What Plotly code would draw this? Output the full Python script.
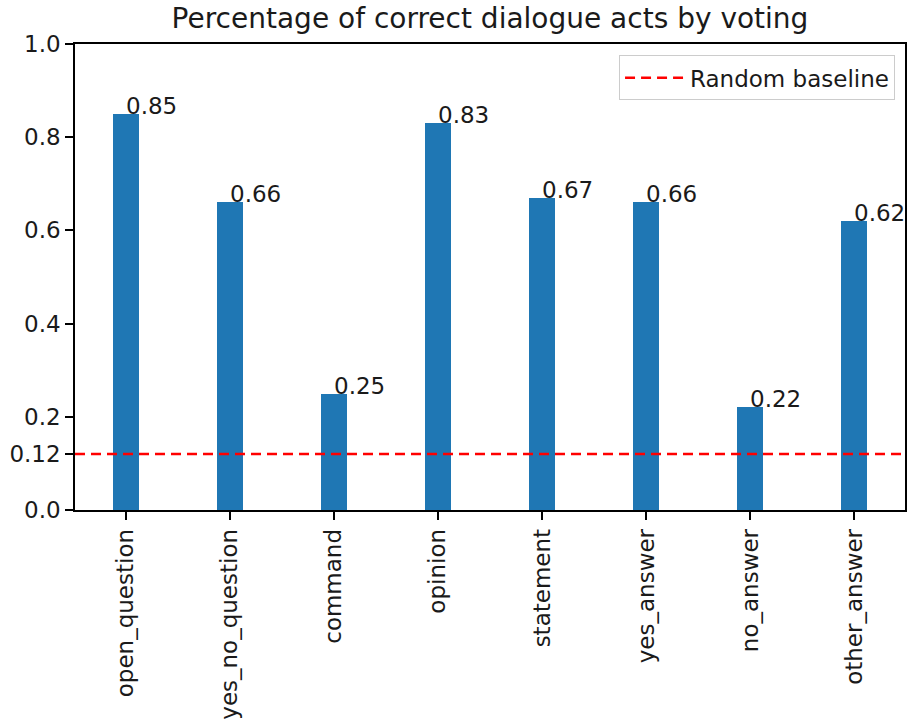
import plotly.graph_objects as go

categories = ["open_question", "yes_no_question", "command", "opinion",
              "statement", "yes_answer", "no_answer", "other_answer"]
values = [0.85, 0.66, 0.25, 0.83, 0.67, 0.66, 0.22, 0.62]
baseline = 0.12
y_tick_vals = [0.0, 0.12, 0.2, 0.4, 0.6, 0.8, 1.0]
y_tick_text = ["0.0", "0.12", "0.2", "0.4", "0.6", "0.8", "1.0"]

xs = list(range(len(categories)))
bar_w = 0.25
x_lo = -bar_w / 2 - 0.05 * (len(categories) - 1 + bar_w)
x_hi = len(categories) - 1 + bar_w / 2 + 0.05 * (len(categories) - 1 + bar_w)

FONT = "DejaVu Sans, Verdana, sans-serif"
TXT = "#1a1a1a"

fig = go.Figure()
fig.add_trace(go.Bar(x=xs, y=values, width=bar_w, marker=dict(color="#1f77b4", line=dict(width=0)),
                     showlegend=False, hoverinfo="skip"))
fig.add_trace(go.Scatter(x=[x_lo, x_hi], y=[baseline, baseline], mode="lines",
                         line=dict(color="red", dash="10px,6px", width=2.5),
                         name="Random baseline", hoverinfo="skip"))

for x, v in zip(xs, values):
    fig.add_annotation(x=x, y=v, text=f"{v:.2f}", showarrow=False,
                       xanchor="left", yanchor="bottom", xshift=-2, yshift=-7,
                       font=dict(size=23, color=TXT, family=FONT))

fig.update_layout(
    width=919, height=721,
    margin=dict(l=75, r=14, t=44, b=211, autoexpand=False),
    paper_bgcolor="white", plot_bgcolor="white",
    font=dict(family=FONT, size=23, color=TXT),
    title=dict(text="Percentage of correct dialogue acts by voting", x=0.5, xref="paper",
               xanchor="center", y=0.975, yanchor="middle", font=dict(size=28, color=TXT)),
    legend=dict(x=0.988, y=0.976, xanchor="right", yanchor="top",
                bgcolor="rgba(255,255,255,0.8)", bordercolor="#cccccc", borderwidth=1,
                itemwidth=60, font=dict(size=23)),
    bargap=0,
)
fig.update_xaxes(range=[x_lo, x_hi], tickvals=xs, ticktext=categories, tickangle=-90,
                 automargin=False,
                 showline=True, linecolor="black", linewidth=1.5, mirror=True,
                 ticks="outside", ticklen=8, tickwidth=1.5, tickcolor="black",
                 showgrid=False, zeroline=False)
fig.update_yaxes(range=[0, 1.0], tickvals=y_tick_vals, ticktext=y_tick_text,
                 automargin=False,
                 showline=True, linecolor="black", linewidth=1.5, mirror=True,
                 ticks="outside", ticklen=8, tickwidth=1.5, tickcolor="black",
                 showgrid=False, zeroline=False)

fig.write_html("out.html", config={"displayModeBar": False},
               post_script="document.body.style.margin='0px';")
